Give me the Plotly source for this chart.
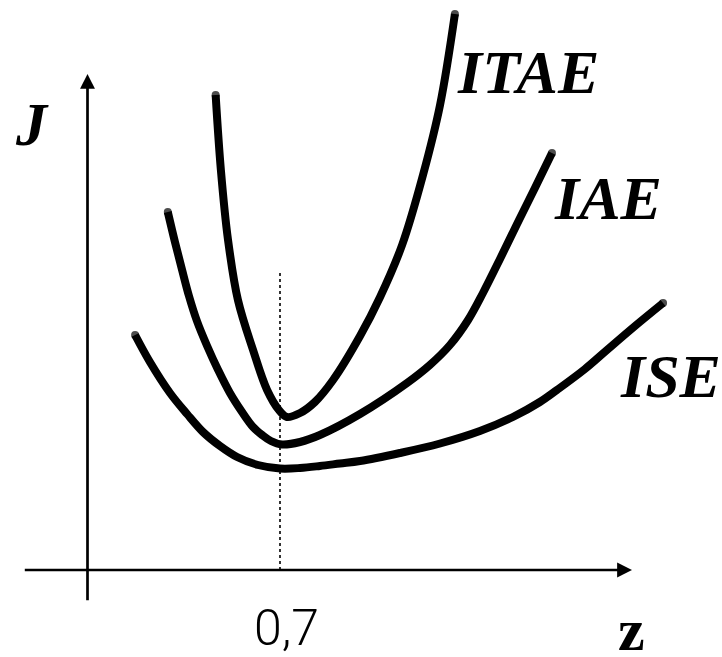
import plotly.graph_objects as go

# Performance-index curves J(z) for three integral criteria
itae_z = [0.466, 0.485, 0.511, 0.547, 0.602, 0.653, 0.696, 0.725, 0.773,
          0.827, 0.893, 0.991, 1.064, 1.144, 1.220, 1.282, 1.336]
itae_j = [4.75, 4.00, 3.30, 2.70, 2.20, 1.80, 1.60, 1.53, 1.57,
          1.68, 1.90, 2.34, 2.73, 3.25, 3.95, 4.65, 5.56]

iae_z = [0.292, 0.318, 0.344, 0.369, 0.398, 0.435, 0.475, 0.518, 0.562, 0.602,
         0.635, 0.667, 0.707, 0.773, 0.845, 0.991, 1.162, 1.245, 1.318, 1.384,
         1.438, 1.500, 1.562, 1.627, 1.689]
iae_j = [3.58, 3.28, 3.00, 2.74, 2.49, 2.24, 2.00, 1.77, 1.58, 1.43,
         1.35, 1.29, 1.255, 1.28, 1.35, 1.56, 1.87, 2.05, 2.25, 2.50,
         2.77, 3.11, 3.46, 3.82, 4.17]

ise_z = [0.173, 0.227, 0.300, 0.362, 0.420, 0.482, 0.544, 0.620, 0.700, 0.773,
         0.845, 0.918, 0.991, 1.136, 1.282, 1.427, 1.547, 1.645, 1.707, 1.809,
         1.889, 1.991, 2.093]
ise_j = [2.35, 2.08, 1.77, 1.56, 1.38, 1.24, 1.13, 1.05, 1.015, 1.02,
         1.04, 1.065, 1.09, 1.17, 1.265, 1.39, 1.53, 1.68, 1.80, 2.01,
         2.20, 2.44, 2.67]

curve_names = ["ITAE", "IAE", "ISE"]
z_opt = 0.7
z_opt_label = "0,7"

# Label anchor points (z, J) for each curve name
label_pos = {"ITAE": (1.336, 4.98), "IAE": (1.688, 3.72), "ISE": (1.929, 1.94)}

X_RANGE = [-0.3182, 2.3073]
Y_RANGE = [-0.87, 5.70]

serif_bi = dict(family="Liberation Serif, Times New Roman, serif", size=62,
                color="black", weight="bold", style="italic")

fig = go.Figure()

for zs, js, name in [(itae_z, itae_j, "ITAE"), (iae_z, iae_j, "IAE"), (ise_z, ise_j, "ISE")]:
    caps = [8] + [0] * (len(zs) - 2) + [8]
    fig.add_trace(go.Scatter(
        x=zs, y=js, mode="lines+markers", name=name,
        line=dict(color="black", width=8, shape="spline", smoothing=1.0),
        marker=dict(size=caps, color="black", line=dict(width=0)),
        hoverinfo="skip", showlegend=False,
    ))

# dotted guide at the optimum damping
fig.add_trace(go.Scatter(
    x=[z_opt, z_opt], y=[0, 3.0], mode="lines",
    line=dict(color="black", width=1.6, dash="dot"),
    hoverinfo="skip", showlegend=False,
))

annotations = []
# axes drawn as arrows
annotations.append(dict(x=0, y=4.96, ax=0, ay=-0.317, xref="x", yref="y",
                        axref="x", ayref="y", text="", showarrow=True,
                        arrowhead=2, arrowsize=1.1, arrowwidth=2.7,
                        arrowcolor="black", standoff=0, startstandoff=0))
annotations.append(dict(x=1.98, y=0, ax=-0.2335, ay=0, xref="x", yref="y",
                        axref="x", ayref="y", text="", showarrow=True,
                        arrowhead=2, arrowsize=1.1, arrowwidth=2.7,
                        arrowcolor="black", standoff=0, startstandoff=0))

for name in curve_names:
    lx, ly = label_pos[name]
    annotations.append(dict(x=lx, y=ly, xref="x", yref="y", text=name,
                            showarrow=False, xanchor="left", yanchor="middle",
                            font=serif_bi))

annotations.append(dict(x=-0.271, y=4.46, xref="x", yref="y", text="J",
                        showarrow=False, xanchor="left", yanchor="middle",
                        font=serif_bi))
annotations.append(dict(x=1.977, y=-0.60, xref="x", yref="y", text="z",
                        showarrow=False, xanchor="center", yanchor="middle",
                        font=dict(family="Liberation Serif, Times New Roman, serif",
                                  size=60, color="black", weight="bold")))
annotations.append(dict(x=z_opt, y=-0.58, xref="x", yref="y", text=z_opt_label,
                        showarrow=False, xanchor="center", yanchor="middle",
                        xshift=6,
                        font=dict(family="Liberation Sans Narrow, Roboto, sans-serif",
                                  size=50, color="black", weight=300)))

fig.update_layout(
    width=722, height=657,
    margin=dict(l=0, r=0, t=0, b=0),
    paper_bgcolor="white", plot_bgcolor="white",
    xaxis=dict(range=X_RANGE, visible=False, fixedrange=True),
    yaxis=dict(range=Y_RANGE, visible=False, fixedrange=True),
    annotations=annotations,
)

fig.write_html("out.html")
